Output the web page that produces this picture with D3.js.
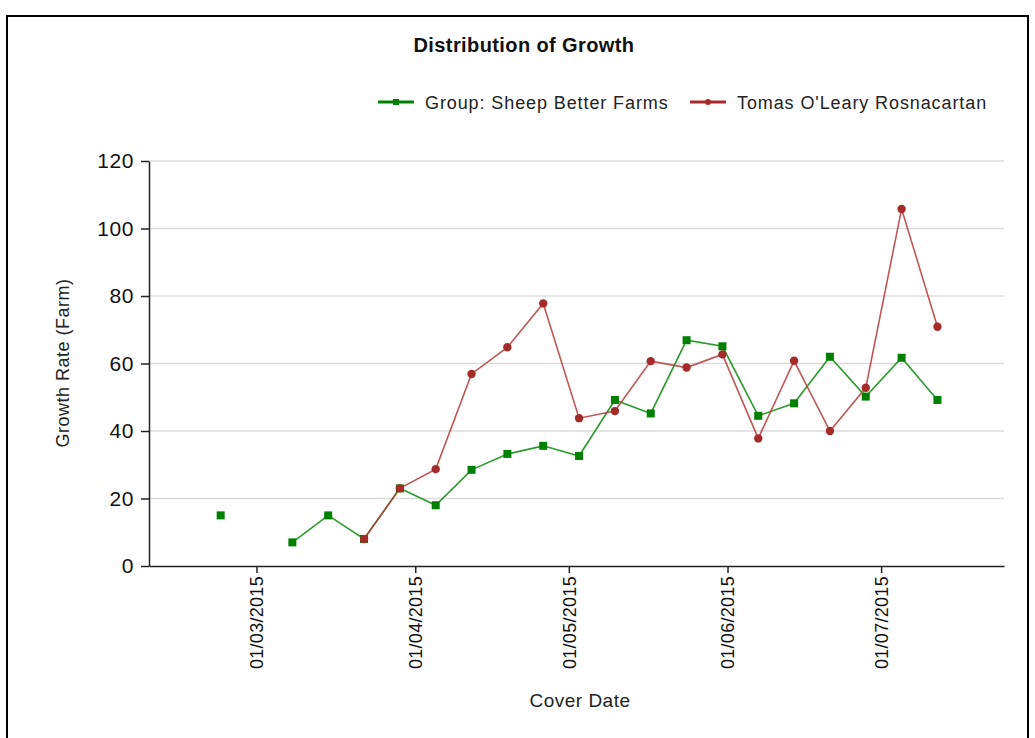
<!DOCTYPE html>
<html>
<head>
<meta charset="utf-8">
<script src="https://cdn.jsdelivr.net/npm/d3@7"></script>
<style>
  body { margin: 0; background: #fff; }
  text { font-family: "Liberation Sans", Arial, sans-serif; }
</style>
</head>
<body>
<div id="chart"></div>
<script>
// weekly cover dates (Mar 1 missing for the group series -> gap)
let dates = ["2015-02-22", "2015-03-01", "2015-03-08", "2015-03-15", "2015-03-22", "2015-03-29",
    "2015-04-05", "2015-04-12", "2015-04-19", "2015-04-26", "2015-05-03", "2015-05-10",
    "2015-05-17", "2015-05-24", "2015-05-31", "2015-06-07", "2015-06-14", "2015-06-21",
    "2015-06-28", "2015-07-05", "2015-07-12"]

let groupValues = [15, null, 7, 15, 8, 23, 18, 28.5, 33.2, 35.6, 32.6, 49.2, 45.2, 66.9, 65.1,
    44.5, 48.2, 62, 50.2, 61.7, 49.2]
let farmValues = [null, null, null, null, 8, 23, 28.7, 56.9, 64.8, 77.8, 43.8, 45.9, 60.7, 58.8,
    62.7, 37.8, 60.8, 40, 52.8, 105.8, 70.9]

let seriesNames = ["Group: Sheep Better Farms", "Tomas O'Leary Rosnacartan"]
let xTickDates = ["2015-03-01", "2015-04-01", "2015-05-01", "2015-06-01", "2015-07-01"]
let yTicks = [0, 20, 40, 60, 80, 100, 120]

let svgWidth = 1035
let svgHeight = 738

let parseDate = d3.timeParse("%Y-%m-%d")

let svg = d3.select("#chart")
    .append("svg")
    .attr("width", svgWidth)
    .attr("height", svgHeight)

// outer frame (left, top, right)
svg.append("path")
    .attr("d", "M7,740 L7,16 L1028,16 L1028,740")
    .attr("fill", "none")
    .attr("stroke", "#000")
    .attr("stroke-width", 2)

let xScale = d3.scaleTime()
    .domain([parseDate("2015-02-08"), parseDate("2015-07-25")])
    .range([149, 1004])

let yScale = d3.scaleLinear()
    .domain([0, 120])
    .range([566, 161])

// grid lines
svg.append("g")
    .selectAll("line")
    .data(yTicks.filter(d => d > 0))
    .enter()
    .append("line")
    .attr("x1", 149)
    .attr("x2", 1004)
    .attr("y1", d => yScale(d))
    .attr("y2", d => yScale(d))
    .attr("stroke", "#dcdcdc")
    .attr("stroke-width", 1.5)

// axes
let yAxis = d3.axisLeft(yScale).tickValues(yTicks).tickSize(8).tickPadding(7).tickSizeOuter(0)
let yG = svg.append("g")
    .attr("transform", "translate(149,0)")
    .call(yAxis)
yG.selectAll("text").attr("font-size", "21px").attr("letter-spacing", "0.6px")
    .attr("fill", "#111").attr("font-family", "Liberation Sans, Arial")
yG.selectAll("line, path").attr("stroke", "#222").attr("stroke-width", 1.5)

let xAxis = d3.axisBottom(xScale)
    .tickValues(xTickDates.map(parseDate))
    .tickFormat(d3.timeFormat("%d/%m/%Y"))
    .tickSize(7)
    .tickSizeOuter(0)
let xG = svg.append("g")
    .attr("transform", "translate(0,566)")
    .call(xAxis)
xG.selectAll("line, path").attr("stroke", "#222").attr("stroke-width", 1.5)
xG.selectAll("text")
    .attr("font-size", "18px")
    .attr("letter-spacing", "0.3px")
    .attr("font-family", "Liberation Sans, Arial")
    .attr("fill", "#111")
    .attr("transform", "rotate(-90)")
    .attr("text-anchor", "end")
    .attr("x", -10)
    .attr("y", 0)
    .attr("dy", "0.35em")

// titles
svg.append("text")
    .attr("x", 524)
    .attr("y", 52)
    .attr("text-anchor", "middle")
    .attr("font-size", "20px")
    .attr("letter-spacing", "0.4px")
    .attr("font-weight", "bold")
    .attr("fill", "#111")
    .text("Distribution of Growth")

svg.append("text")
    .attr("x", 580)
    .attr("y", 707)
    .attr("text-anchor", "middle")
    .attr("font-size", "19px")
    .attr("letter-spacing", "0.5px")
    .attr("fill", "#222")
    .text("Cover Date")

svg.append("text")
    .attr("transform", "translate(69,363) rotate(-90)")
    .attr("text-anchor", "middle")
    .attr("font-size", "18px")
    .attr("letter-spacing", "0.5px")
    .attr("fill", "#222")
    .text("Growth Rate (Farm)")

// series
let groupData = dates.map((d, i) => ({ date: parseDate(d), value: groupValues[i] }))
let farmData = dates.map((d, i) => ({ date: parseDate(d), value: farmValues[i] }))

let line = d3.line()
    .defined(d => d.value != null)
    .x(d => xScale(d.date))
    .y(d => yScale(d.value))

svg.append("path")
    .datum(groupData)
    .attr("d", line)
    .attr("fill", "none")
    .attr("stroke", "#2a9a2a")
    .attr("stroke-width", 1.6)

svg.append("path")
    .datum(farmData)
    .attr("d", line)
    .attr("fill", "none")
    .attr("stroke", "#b53a3a")
    .attr("stroke-opacity", 0.85)
    .attr("stroke-width", 1.6)

svg.append("g")
    .selectAll("rect")
    .data(groupData.filter(d => d.value != null))
    .enter()
    .append("rect")
    .attr("x", d => xScale(d.date) - 4)
    .attr("y", d => yScale(d.value) - 4)
    .attr("width", 8)
    .attr("height", 8)
    .attr("fill", "#008000")

svg.append("g")
    .selectAll("circle")
    .data(farmData.filter(d => d.value != null))
    .enter()
    .append("circle")
    .attr("cx", d => xScale(d.date))
    .attr("cy", d => yScale(d.value))
    .attr("r", 4.2)
    .attr("fill", "#a52a2a")

// legend
let legendItems = [
    { name: seriesNames[0], color: "#008000", x: 378, shape: "square" },
    { name: seriesNames[1], color: "#a52a2a", x: 690, shape: "circle" }
]
let legend = svg.append("g")
legendItems.forEach(function (item) {
    let g = legend.append("g").attr("transform", `translate(${item.x},102)`)
    g.append("line")
        .attr("x1", 0).attr("x2", 36)
        .attr("stroke", item.color)
        .attr("stroke-width", 3)
    if (item.shape == "square") {
        g.append("rect").attr("x", 15).attr("y", -3).attr("width", 6).attr("height", 6).attr("fill", item.color)
    } else {
        g.append("circle").attr("cx", 18).attr("r", 3).attr("fill", item.color)
    }
    g.append("text")
        .attr("x", 47)
        .attr("y", 6.5)
        .attr("font-size", "18px")
        .attr("letter-spacing", "0.9px")
        .attr("fill", "#222")
        .text(item.name)
})
</script>
</body>
</html>
